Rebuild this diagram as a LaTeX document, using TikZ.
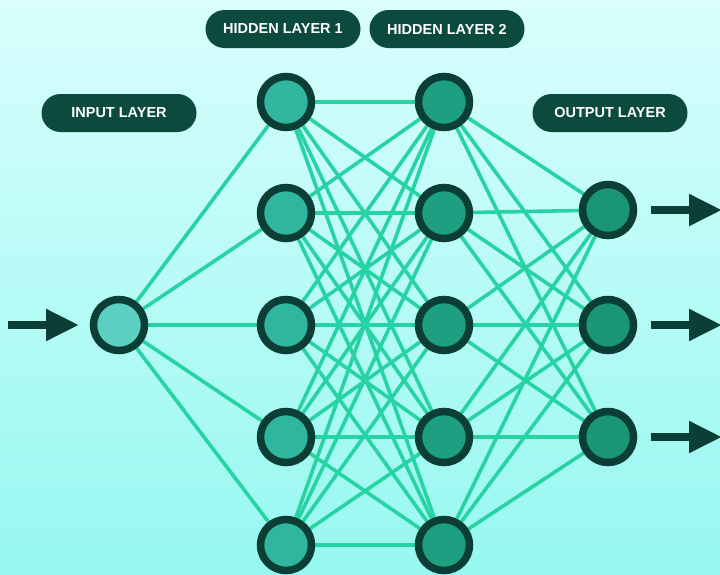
\documentclass[tikz,border=0pt]{standalone}
\usepackage{fontspec}
\setmainfont{Liberation Sans}
\usetikzlibrary{arrows.meta}
\pgfdeclarelayer{bg}
\pgfdeclarelayer{wires}
\pgfsetlayers{bg,wires,main}
\definecolor{bgtop}{HTML}{D9FEFD}
\definecolor{bgbot}{HTML}{96F8F0}
\definecolor{edge}{HTML}{27D3A2}
\definecolor{rim}{HTML}{0B3E34}
\definecolor{pill}{HTML}{0B4A3D}
\definecolor{fin}{HTML}{5ACFC2}
\definecolor{fhA}{HTML}{30B69E}
\definecolor{fhB}{HTML}{1F9F82}
\definecolor{fout}{HTML}{1A9676}
\begin{document}
\begin{tikzpicture}[x=1pt,y=-1pt,
  neuron/.style={circle,draw=rim,line width=7.5pt,minimum size=51pt,inner sep=0pt},
  tag/.style={rounded corners=19pt,fill=pill,text=white,minimum width=155pt,minimum height=38pt,
    font=\fontsize{14.5}{14.5}\selectfont\bfseries,inner sep=0pt},
  link/.style={draw=edge,line width=3.6pt},
  flow/.style={draw=rim,line width=8pt,-{Triangle[length=33pt,width=30pt]}}]
\begin{pgfonlayer}{bg}
\shade[top color=bgtop,bottom color=bgbot] (0,0) rectangle (720,574);
\end{pgfonlayer}
\useasboundingbox (0,0) rectangle (720,574);
% layers
\node[neuron,fill=fin] (i1) at (119,325) {};
\foreach \y [count=\k] in {102,213,325,437,545} {
  \node[neuron,fill=fhA] (a\k) at (286,\y) {};
  \node[neuron,fill=fhB] (b\k) at (444,\y) {};
}
\foreach \y [count=\k] in {210,325,437}
  \node[neuron,fill=fout] (o\k) at (608,\y) {};
% connections behind the neurons
\begin{pgfonlayer}{wires}
\foreach \k in {1,...,5} \path[link] (i1) -- (a\k);
\foreach \k in {1,...,5} \foreach \m in {1,...,5} \path[link] (a\k) -- (b\m);
\foreach \k in {1,...,5} \foreach \m in {1,2,3} \path[link] (b\k) -- (o\m);
\end{pgfonlayer}
% labels
\node[tag] (t1) at (283,29) {HIDDEN LAYER 1};
\node[tag] (t2) at (447,29) {HIDDEN LAYER 2};
\node[tag] (t0) at (119,113) {INPUT LAYER};
\node[tag] (t3) at (610,113) {OUTPUT LAYER};
% input and output arrows
\coordinate (s0) at (8,325);
\coordinate (e0) at (79,325);
\draw[flow] (s0) -- (e0);
\foreach \k/\y in {1/210,2/325,3/437} {
  \coordinate (p\k) at (651,\y);
  \coordinate (q\k) at (722,\y);
  \draw[flow] (p\k) -- (q\k);
}
\end{tikzpicture}
\end{document}
